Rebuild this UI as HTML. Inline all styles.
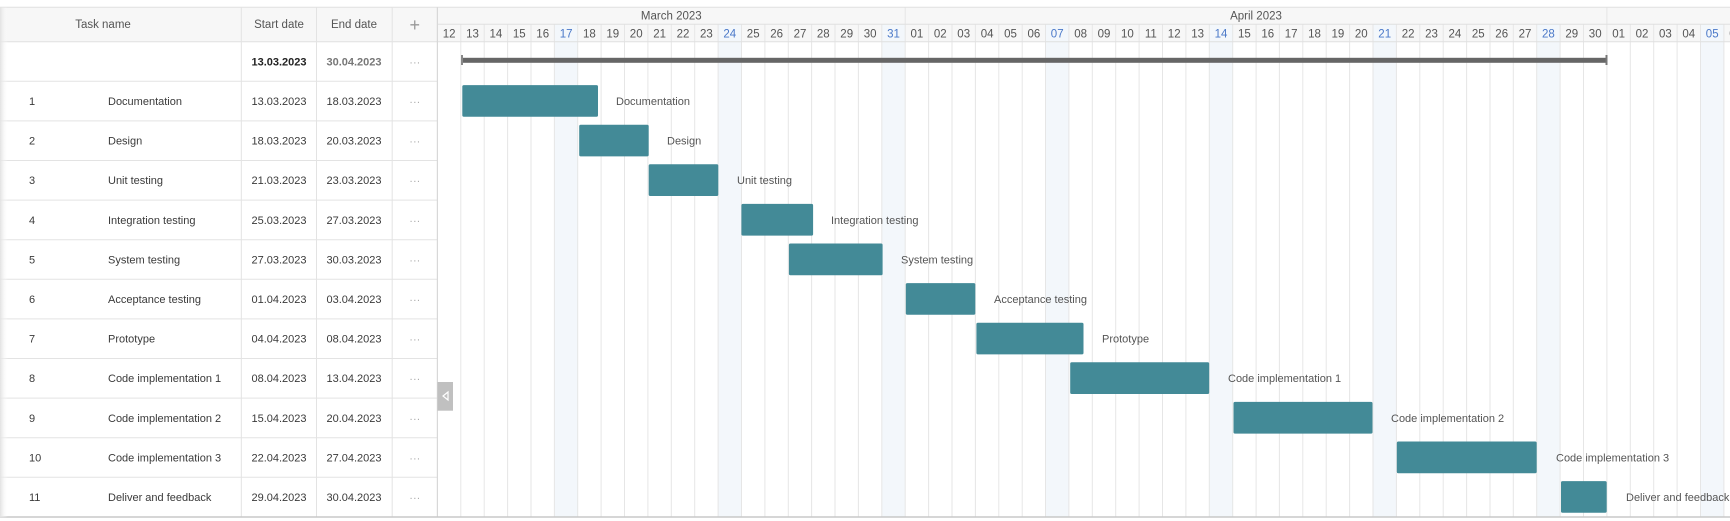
<!DOCTYPE html>
<html><head><meta charset="utf-8"><style>
html,body{margin:0;padding:0;background:#fff;width:1730px;height:521px;overflow:hidden}
svg{display:block}
.g{font-family:"Liberation Sans",sans-serif;font-size:11px;fill:#3a3a3a}
.h{font-family:"Liberation Sans",sans-serif;font-size:11.5px;fill:#555}
.d{font-family:"Liberation Sans",sans-serif;font-size:11.5px;fill:#555;text-anchor:middle}
.w{fill:#4a78c8}
.l{font-family:"Liberation Sans",sans-serif;font-size:11px;fill:#555}
.c{text-anchor:middle}
.dots{font-family:"Liberation Sans",sans-serif;font-size:11px;fill:#aaa;text-anchor:middle}
</style></head><body>
<svg width="1730" height="521" xmlns="http://www.w3.org/2000/svg">
<defs><linearGradient id="sh" x1="0" x2="1"><stop offset="0" stop-color="#e2e2e2"/><stop offset="1" stop-color="#fff" stop-opacity="0"/></linearGradient></defs>
<rect x="0" y="7.3" width="1730" height="34.4" fill="#f7f7f7"/>
<g fill="#f3f7fb">
<rect x="554.4" y="24.3" width="23.4" height="492.7"/>
<rect x="718.1" y="24.3" width="23.4" height="492.7"/>
<rect x="881.8" y="24.3" width="23.4" height="492.7"/>
<rect x="1045.5" y="24.3" width="23.4" height="492.7"/>
<rect x="1209.3" y="24.3" width="23.4" height="492.7"/>
<rect x="1373.0" y="24.3" width="23.4" height="492.7"/>
<rect x="1536.7" y="24.3" width="23.4" height="492.7"/>
<rect x="1700.5" y="24.3" width="23.4" height="492.7"/>
</g>
<g stroke="#e6e6e6" stroke-width="1">
<line x1="460.8" y1="24.3" x2="460.8" y2="517"/><line x1="484.2" y1="24.3" x2="484.2" y2="517"/><line x1="507.6" y1="24.3" x2="507.6" y2="517"/><line x1="531.0" y1="24.3" x2="531.0" y2="517"/><line x1="554.4" y1="24.3" x2="554.4" y2="517"/><line x1="577.7" y1="24.3" x2="577.7" y2="517"/><line x1="601.1" y1="24.3" x2="601.1" y2="517"/><line x1="624.5" y1="24.3" x2="624.5" y2="517"/><line x1="647.9" y1="24.3" x2="647.9" y2="517"/><line x1="671.3" y1="24.3" x2="671.3" y2="517"/><line x1="694.7" y1="24.3" x2="694.7" y2="517"/><line x1="718.1" y1="24.3" x2="718.1" y2="517"/><line x1="741.5" y1="24.3" x2="741.5" y2="517"/><line x1="764.9" y1="24.3" x2="764.9" y2="517"/><line x1="788.3" y1="24.3" x2="788.3" y2="517"/><line x1="811.6" y1="24.3" x2="811.6" y2="517"/><line x1="835.0" y1="24.3" x2="835.0" y2="517"/><line x1="858.4" y1="24.3" x2="858.4" y2="517"/><line x1="881.8" y1="24.3" x2="881.8" y2="517"/><line x1="905.2" y1="7.3" x2="905.2" y2="517"/><line x1="928.6" y1="24.3" x2="928.6" y2="517"/><line x1="952.0" y1="24.3" x2="952.0" y2="517"/><line x1="975.4" y1="24.3" x2="975.4" y2="517"/><line x1="998.8" y1="24.3" x2="998.8" y2="517"/><line x1="1022.2" y1="24.3" x2="1022.2" y2="517"/><line x1="1045.5" y1="24.3" x2="1045.5" y2="517"/><line x1="1068.9" y1="24.3" x2="1068.9" y2="517"/><line x1="1092.3" y1="24.3" x2="1092.3" y2="517"/><line x1="1115.7" y1="24.3" x2="1115.7" y2="517"/><line x1="1139.1" y1="24.3" x2="1139.1" y2="517"/><line x1="1162.5" y1="24.3" x2="1162.5" y2="517"/><line x1="1185.9" y1="24.3" x2="1185.9" y2="517"/><line x1="1209.3" y1="24.3" x2="1209.3" y2="517"/><line x1="1232.7" y1="24.3" x2="1232.7" y2="517"/><line x1="1256.1" y1="24.3" x2="1256.1" y2="517"/><line x1="1279.4" y1="24.3" x2="1279.4" y2="517"/><line x1="1302.8" y1="24.3" x2="1302.8" y2="517"/><line x1="1326.2" y1="24.3" x2="1326.2" y2="517"/><line x1="1349.6" y1="24.3" x2="1349.6" y2="517"/><line x1="1373.0" y1="24.3" x2="1373.0" y2="517"/><line x1="1396.4" y1="24.3" x2="1396.4" y2="517"/><line x1="1419.8" y1="24.3" x2="1419.8" y2="517"/><line x1="1443.2" y1="24.3" x2="1443.2" y2="517"/><line x1="1466.6" y1="24.3" x2="1466.6" y2="517"/><line x1="1490.0" y1="24.3" x2="1490.0" y2="517"/><line x1="1513.3" y1="24.3" x2="1513.3" y2="517"/><line x1="1536.7" y1="24.3" x2="1536.7" y2="517"/><line x1="1560.1" y1="24.3" x2="1560.1" y2="517"/><line x1="1583.5" y1="24.3" x2="1583.5" y2="517"/><line x1="1606.9" y1="7.3" x2="1606.9" y2="517"/><line x1="1630.3" y1="24.3" x2="1630.3" y2="517"/><line x1="1653.7" y1="24.3" x2="1653.7" y2="517"/><line x1="1677.1" y1="24.3" x2="1677.1" y2="517"/><line x1="1700.5" y1="24.3" x2="1700.5" y2="517"/><line x1="1723.9" y1="24.3" x2="1723.9" y2="517"/>
</g>
<g stroke="#e0e0e0" stroke-width="1">
<line x1="0" y1="7.3" x2="1730" y2="7.3"/>
<line x1="437.4" y1="24.3" x2="1730" y2="24.3"/>
<line x1="0" y1="41.7" x2="1730" y2="41.7"/>
</g>
<g stroke="#e3e3e3" stroke-width="1">
<line x1="0" y1="81.3" x2="437" y2="81.3"/><line x1="0" y1="120.9" x2="437" y2="120.9"/><line x1="0" y1="160.5" x2="437" y2="160.5"/><line x1="0" y1="200.1" x2="437" y2="200.1"/><line x1="0" y1="239.7" x2="437" y2="239.7"/><line x1="0" y1="279.3" x2="437" y2="279.3"/><line x1="0" y1="318.9" x2="437" y2="318.9"/><line x1="0" y1="358.5" x2="437" y2="358.5"/><line x1="0" y1="398.1" x2="437" y2="398.1"/><line x1="0" y1="437.7" x2="437" y2="437.7"/><line x1="0" y1="477.3" x2="437" y2="477.3"/>
<line x1="241.3" y1="7.3" x2="241.3" y2="517"/>
<line x1="316.5" y1="7.3" x2="316.5" y2="517"/>
<line x1="392.2" y1="7.3" x2="392.2" y2="517"/>
</g>
<line x1="437.4" y1="7.3" x2="437.4" y2="517" stroke="#d8d8d8" stroke-width="1.2"/>
<line x1="0" y1="517" x2="1730" y2="517" stroke="#c8c8c8" stroke-width="1.5"/>
<rect x="0" y="7.3" width="8" height="510" fill="url(#sh)"/>
<text class="h c" x="103" y="28">Task name</text>
<text class="h c" x="279" y="28">Start date</text>
<text class="h c" x="354" y="28">End date</text>
<text x="414.8" y="31" style="font-family:'Liberation Sans',sans-serif;font-size:18px;fill:#999;text-anchor:middle">+</text>
<text class="h c" x="671.3" y="19.5">March 2023</text>
<text class="h c" x="1256" y="19.5">April 2023</text>
<g class="d">
<text x="449.1" y="37.5">12</text><text x="472.5" y="37.5">13</text><text x="495.9" y="37.5">14</text><text x="519.3" y="37.5">15</text><text x="542.7" y="37.5">16</text><text x="566.1" y="37.5" class="w">17</text><text x="589.4" y="37.5">18</text><text x="612.8" y="37.5">19</text><text x="636.2" y="37.5">20</text><text x="659.6" y="37.5">21</text><text x="683.0" y="37.5">22</text><text x="706.4" y="37.5">23</text><text x="729.8" y="37.5" class="w">24</text><text x="753.2" y="37.5">25</text><text x="776.6" y="37.5">26</text><text x="800.0" y="37.5">27</text><text x="823.3" y="37.5">28</text><text x="846.7" y="37.5">29</text><text x="870.1" y="37.5">30</text><text x="893.5" y="37.5" class="w">31</text>
<text x="916.9" y="37.5">01</text><text x="940.3" y="37.5">02</text><text x="963.7" y="37.5">03</text><text x="987.1" y="37.5">04</text><text x="1010.5" y="37.5">05</text><text x="1033.9" y="37.5">06</text><text x="1057.2" y="37.5" class="w">07</text><text x="1080.6" y="37.5">08</text><text x="1104.0" y="37.5">09</text><text x="1127.4" y="37.5">10</text><text x="1150.8" y="37.5">11</text><text x="1174.2" y="37.5">12</text><text x="1197.6" y="37.5">13</text><text x="1221.0" y="37.5" class="w">14</text><text x="1244.4" y="37.5">15</text><text x="1267.8" y="37.5">16</text><text x="1291.1" y="37.5">17</text><text x="1314.5" y="37.5">18</text><text x="1337.9" y="37.5">19</text><text x="1361.3" y="37.5">20</text><text x="1384.7" y="37.5" class="w">21</text><text x="1408.1" y="37.5">22</text><text x="1431.5" y="37.5">23</text><text x="1454.9" y="37.5">24</text><text x="1478.3" y="37.5">25</text><text x="1501.7" y="37.5">26</text><text x="1525.0" y="37.5">27</text><text x="1548.4" y="37.5" class="w">28</text><text x="1571.8" y="37.5">29</text><text x="1595.2" y="37.5">30</text>
<text x="1618.6" y="37.5">01</text><text x="1642.0" y="37.5">02</text><text x="1665.4" y="37.5">03</text><text x="1688.8" y="37.5">04</text><text x="1712.2" y="37.5" class="w">05</text><text x="1735.6" y="37.5">06</text>
</g>
<text class="g c" x="279" y="65.5" style="font-weight:bold;fill:#222">13.03.2023</text>
<text class="g c" x="354" y="65.5" style="font-weight:bold;fill:#777">30.04.2023</text>
<text class="dots" x="414.8" y="66">···</text>
<rect x="462" y="57.8" width="1145" height="5" fill="#666"/>
<rect x="461" y="55" width="2" height="10" fill="#888"/>
<rect x="1605.5" y="55" width="2" height="10" fill="#777"/>
<g class="g">
<text x="29" y="105">1</text><text x="108" y="105">Documentation</text><text class="c" x="279" y="105">13.03.2023</text><text class="c" x="354" y="105">18.03.2023</text>
<text x="29" y="144.6">2</text><text x="108" y="144.6">Design</text><text class="c" x="279" y="144.6">18.03.2023</text><text class="c" x="354" y="144.6">20.03.2023</text>
<text x="29" y="184.2">3</text><text x="108" y="184.2">Unit testing</text><text class="c" x="279" y="184.2">21.03.2023</text><text class="c" x="354" y="184.2">23.03.2023</text>
<text x="29" y="223.8">4</text><text x="108" y="223.8">Integration testing</text><text class="c" x="279" y="223.8">25.03.2023</text><text class="c" x="354" y="223.8">27.03.2023</text>
<text x="29" y="263.4">5</text><text x="108" y="263.4">System testing</text><text class="c" x="279" y="263.4">27.03.2023</text><text class="c" x="354" y="263.4">30.03.2023</text>
<text x="29" y="303">6</text><text x="108" y="303">Acceptance testing</text><text class="c" x="279" y="303">01.04.2023</text><text class="c" x="354" y="303">03.04.2023</text>
<text x="29" y="342.6">7</text><text x="108" y="342.6">Prototype</text><text class="c" x="279" y="342.6">04.04.2023</text><text class="c" x="354" y="342.6">08.04.2023</text>
<text x="29" y="382.2">8</text><text x="108" y="382.2">Code implementation 1</text><text class="c" x="279" y="382.2">08.04.2023</text><text class="c" x="354" y="382.2">13.04.2023</text>
<text x="29" y="421.8">9</text><text x="108" y="421.8">Code implementation 2</text><text class="c" x="279" y="421.8">15.04.2023</text><text class="c" x="354" y="421.8">20.04.2023</text>
<text x="29" y="461.4">10</text><text x="108" y="461.4">Code implementation 3</text><text class="c" x="279" y="461.4">22.04.2023</text><text class="c" x="354" y="461.4">27.04.2023</text>
<text x="29" y="501">11</text><text x="108" y="501">Deliver and feedback</text><text class="c" x="279" y="501">29.04.2023</text><text class="c" x="354" y="501">30.04.2023</text>
</g>
<g class="dots">
<text x="414.8" y="105.5">···</text><text x="414.8" y="145.1">···</text><text x="414.8" y="184.7">···</text><text x="414.8" y="224.3">···</text><text x="414.8" y="263.9">···</text><text x="414.8" y="303.5">···</text><text x="414.8" y="343.1">···</text><text x="414.8" y="382.7">···</text><text x="414.8" y="422.3">···</text><text x="414.8" y="461.9">···</text><text x="414.8" y="501.5">···</text>
</g>
<g fill="#438a97">
<rect x="462.3" y="85.1" width="135.7" height="31.7" rx="1.5"/>
<rect x="579.2" y="124.7" width="69.5" height="31.7" rx="1.5"/>
<rect x="648.7" y="164.3" width="69.6" height="31.7" rx="1.5"/>
<rect x="741.4" y="203.9" width="71.7" height="31.7" rx="1.5"/>
<rect x="788.9" y="243.5" width="93.7" height="31.7" rx="1.5"/>
<rect x="905.8" y="283.1" width="69.5" height="31.7" rx="1.5"/>
<rect x="976.4" y="322.7" width="107.1" height="31.7" rx="1.5"/>
<rect x="1070.2" y="362.3" width="139" height="31.7" rx="1.5"/>
<rect x="1233.5" y="401.9" width="139" height="31.7" rx="1.5"/>
<rect x="1396.8" y="441.5" width="139.9" height="31.7" rx="1.5"/>
<rect x="1561" y="481.1" width="45.7" height="31.7" rx="1.5"/>
</g>
<g class="l">
<text x="616" y="105">Documentation</text>
<text x="667" y="144.6">Design</text>
<text x="737" y="184.2">Unit testing</text>
<text x="831" y="223.8">Integration testing</text>
<text x="901" y="263.4">System testing</text>
<text x="994" y="303">Acceptance testing</text>
<text x="1102" y="342.6">Prototype</text>
<text x="1228" y="382.2">Code implementation 1</text>
<text x="1391" y="421.8">Code implementation 2</text>
<text x="1556" y="461.4">Code implementation 3</text>
<text x="1626" y="501">Deliver and feedback</text>
</g>
<rect x="437.4" y="382" width="15.6" height="28.7" fill="#c0c0c0"/>
<path d="M448 392 L443 396 L448 400 Z" fill="none" stroke="#fff" stroke-width="1.2"/>
</svg>
</body></html>
